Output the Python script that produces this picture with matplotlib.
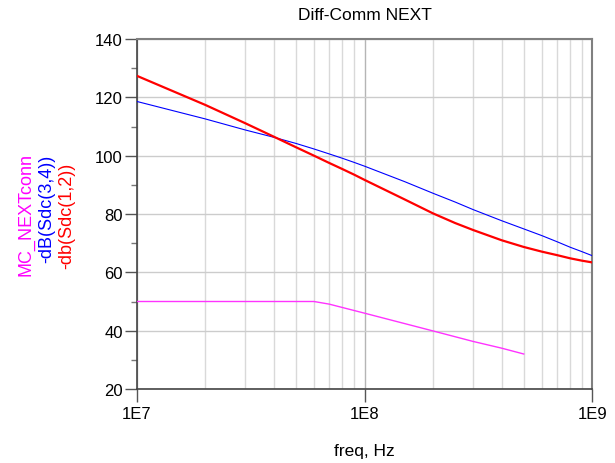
import matplotlib
matplotlib.use("Agg")
import matplotlib.pyplot as plt
from matplotlib.ticker import FixedLocator, LogLocator, NullFormatter, FixedFormatter

plt.rcParams['font.family'] = ['Liberation Sans', 'DejaVu Sans']

# Data
freq = [1e7, 2e7, 3e7, 4e7, 5e7, 6e7, 7e7, 8e7, 9e7,
        1e8, 1.5e8, 2e8, 2.5e8, 3e8, 4e8, 5e8, 6e8, 7e8, 8e8, 9e8, 1e9]
sdc12 = [127.4, 117.4, 111.1, 106.5, 102.9, 100.0, 97.5, 95.4, 93.5,
         91.7, 85.0, 80.2, 76.9, 74.5, 71.0, 68.7, 67.1, 65.9, 64.8, 64.0, 63.4]
sdc34 = [118.6, 112.6, 108.8, 106.3, 104.2, 102.3, 100.6, 99.1, 97.7,
         96.4, 91.1, 87.1, 84.1, 81.5, 77.7, 74.9, 72.6, 70.5, 68.6, 67.1, 65.7]
mc_freq = [1e7, 6e7, 7e7, 1e8, 2e8, 3e8, 4e8, 5e8]
mc_next = [50.0, 50.0, 49.1, 46.0, 39.9, 36.3, 34.0, 32.0]

y_ticks = [20, 40, 60, 80, 100, 120, 140]
y_minor = [30, 50, 70, 90, 110, 130]
x_ticks = [1e7, 1e8, 1e9]
x_labels = ['1E7', '1E8', '1E9']

W, H = 615, 464
fig = plt.figure(figsize=(W / 100, H / 100), dpi=100)
x0, x1, yt, yb = 136.7, 592.3, 40, 390
ax = fig.add_axes([x0 / W, 1 - yb / H, (x1 - x0) / W, (yb - yt) / H])

ax.set_xscale('log')
ax.set_xlim(1e7, 1e9)
ax.set_ylim(20, 140)

# grid
ax.xaxis.set_minor_locator(LogLocator(base=10, subs=range(2, 10)))
ax.xaxis.set_minor_formatter(NullFormatter())
ax.grid(True, which='minor', axis='x', color='#d9d9d9', lw=1.0, zorder=0)
ax.grid(True, which='major', axis='x', color='#b5b5b5', lw=1.0, zorder=0)
ax.grid(True, which='major', axis='y', color='#cccccc', lw=1.0, zorder=0)

ax.plot(mc_freq, mc_next, color='#ff33ff', lw=1.0, zorder=3)
ax.plot(freq, sdc34, color='#0000ff', lw=0.8, zorder=3)
ax.plot(freq, sdc12, color='#ff0000', lw=1.6, zorder=4)

ax.xaxis.set_major_locator(FixedLocator(x_ticks))
ax.xaxis.set_major_formatter(FixedFormatter(x_labels))
ax.yaxis.set_major_locator(FixedLocator(y_ticks))
ax.yaxis.set_minor_locator(FixedLocator(y_minor))

ax.tick_params(axis='both', which='major', direction='out', length=9,
               width=1.0, color='#555555', labelsize=12, pad=1)
ax.tick_params(axis='y', which='minor', direction='out', length=4.5,
               width=1.0, color='#777777')
ax.tick_params(axis='x', which='minor', length=0)
ax.tick_params(axis='x', which='major', pad=3)

for s in ['left', 'bottom']:
    ax.spines[s].set_color('#444444')
    ax.spines[s].set_linewidth(1.2)
for s in ['top', 'right']:
    ax.spines[s].set_color('#808080')
    ax.spines[s].set_linewidth(1.5)

fig.text((x0 + x1) / 2 / W, 1 - 15 / H, 'Diff-Comm NEXT', ha='center',
         va='center', fontsize=12.5)
fig.text((x0 + x1) / 2 / W, 1 - 452 / H, 'freq, Hz', ha='center',
         va='center', fontsize=12.5)

fig.text(26 / W, 1 - 215 / H, 'MC_NEXTconn', color='#ff00ff', rotation=90,
         ha='center', va='center', fontsize=13)
fig.text(47 / W, 1 - 209 / H, '-dB(Sdc(3,4))', color='#0000ff', rotation=90,
         ha='center', va='center', fontsize=13)
fig.text(67 / W, 1 - 216 / H, '-db(Sdc(1,2))', color='#ff0000', rotation=90,
         ha='center', va='center', fontsize=13)

fig.savefig('out.png', dpi=100)
